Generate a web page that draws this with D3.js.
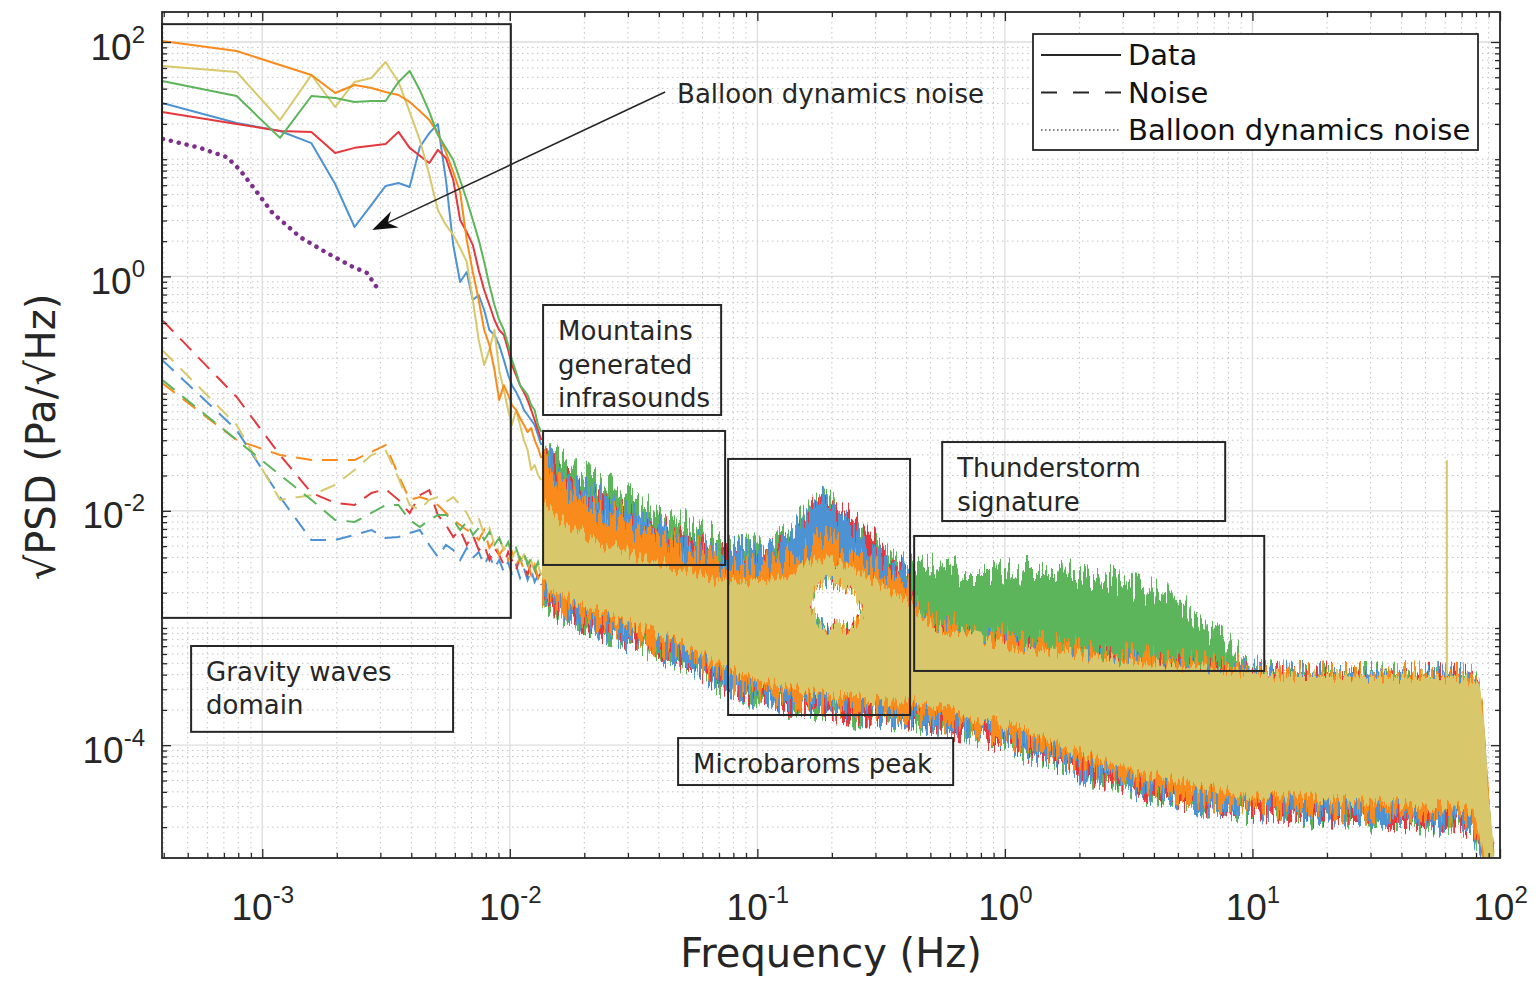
<!DOCTYPE html>
<html>
<head>
<meta charset="utf-8">
<script src="https://cdn.jsdelivr.net/npm/d3@7"></script>
<style>
  body { margin: 0; background: #fff; }
  svg { font-family: "DejaVu Sans", sans-serif; }
</style>
</head>
<body>
<svg id="chart"></svg>
<script>
// ---------- low frequency part: FFT bins (Hz) and sqrt(PSD) (Pa/sqrt(Hz))
const binFreq = [0.000394, 0.000788, 0.00118, 0.00158, 0.00197, 0.00236, 0.00276, 0.00315, 0.00355, 0.00394,
  0.00433, 0.00473, 0.00512, 0.00552, 0.00591, 0.0063, 0.0067, 0.00709, 0.00749, 0.00788,
  0.00827, 0.00867, 0.00906, 0.00946, 0.00985, 0.0102, 0.0106, 0.011, 0.0114, 0.0118,
  0.0122, 0.0126, 0.013, 0.0134];

// solid "Data" curves
const blueData = [30.2, 20.4, 17.4, 13.7, 6.14, 2.64, 4.07, 5.91, 6.27, 5.79, 12.7, 16.7, 20.0, 6.65, 1.85, 0.896, 1.09,
  0.629, 0.694, 0.517, 0.349, 0.316, 0.260, 0.194, 0.144, 0.118, 0.103, 0.0882, 0.0725, 0.0657, 0.0595, 0.054, 0.0443, 0.0364];
const redData = [25.3, 20.0, 17.4, 17.1, 11.3, 12.5, 13.0, 13.5, 17.1, 12.5, 10.7, 9.28, 12.0, 10.2, 6.65, 3.03, 2.39,
  1.85, 1.13, 0.766, 0.570, 0.425, 0.349, 0.316, 0.236, 0.175, 0.144, 0.118, 0.103, 0.0882, 0.0725, 0.0595, 0.0489, 0.0402];
const orangeData = [102, 83.8, 63.7, 52.3, 36.7, 43.0, 40.5, 37.5, 35.3, 30.8, 25.8, 21.6, 16.7, 11.5, 7.78, 5.25, 2.05,
  1.09, 0.629, 0.349, 0.260, 0.159, 0.0882, 0.118, 0.0973, 0.0799, 0.0725, 0.0619, 0.054, 0.047, 0.0509, 0.0402, 0.0343, 0.0282];
const yellowData = [62.4, 55.5, 21.6, 52.3, 27.9, 45.6, 49.3, 67.5, 45.6, 25.3, 14.6, 7.33, 3.69, 2.75, 2.26, 1.75, 1.33,
  0.629, 0.287, 0.175, 0.236, 0.349, 0.159, 0.107, 0.0725, 0.054, 0.0725, 0.054, 0.0402, 0.033, 0.0223, 0.0246, 0.0202, 0.0183];
const greenData = [46.5, 34.6, 15.2, 34.6, 33.3, 30.8, 31.4, 31.4, 45.6, 56.6, 38.9, 25.3, 16.1, 12.5, 9.84, 6.65, 4.49,
  3.03, 2.05, 1.33, 0.845, 0.570, 0.425, 0.349, 0.260, 0.194, 0.153, 0.118, 0.107, 0.0973, 0.0799, 0.0725, 0.054, 0.047];

// dashed "Noise" curves
const blueNoise = [0.194, 0.0489, 0.0131, 0.00563, 0.00563, 0.00622, 0.00686, 0.00586, 0.00597, 0.00647, 0.00686, 0.00511,
  0.00404, 0.00511, 0.00463, 0.0038, 0.00482, 0.00396, 0.00445, 0.00345, 0.0042, 0.00325, 0.0038, 0.00301, 0.00366,
  0.00283, 0.00345, 0.00267, 0.00325, 0.00257, 0.00313, 0.00247, 0.00283, 0.00233];
const redNoise = [0.425, 0.0935, 0.0299, 0.0142, 0.0117, 0.0112, 0.0142, 0.0153, 0.0124, 0.00958, 0.0136, 0.015,
  0.00921, 0.00756, 0.00597, 0.00686, 0.00511, 0.00622, 0.00463, 0.00511, 0.0038, 0.00482, 0.0042, 0.00345, 0.00445,
  0.0038, 0.00313, 0.00396, 0.00345, 0.00283, 0.00366, 0.00313, 0.00267, 0.00301];
const orangeNoise = [0.123, 0.0402, 0.0299, 0.0271, 0.0271, 0.0271, 0.0318, 0.0364, 0.0202, 0.0124, 0.0131, 0.0124,
  0.0112, 0.00958, 0.00835, 0.00756, 0.00686, 0.00647, 0.00563, 0.00686, 0.00482, 0.00563, 0.0042, 0.00482, 0.0038,
  0.00445, 0.00345, 0.00396, 0.00313, 0.00366, 0.00283, 0.00345, 0.00267, 0.00313];
const yellowNoise = [0.236, 0.054, 0.0124, 0.0136, 0.0166, 0.0223, 0.0299, 0.033, 0.019, 0.0112, 0.0102, 0.0124,
  0.0131, 0.0119, 0.0131, 0.0112, 0.00958, 0.00756, 0.00868, 0.00622, 0.00713, 0.00511, 0.00586, 0.00463, 0.00511,
  0.00396, 0.00463, 0.00366, 0.0042, 0.00325, 0.0038, 0.00301, 0.00345, 0.00283];
const greenNoise = [0.131, 0.0402, 0.0202, 0.0124, 0.00835, 0.00803, 0.00958, 0.0112, 0.0112, 0.00835, 0.00727, 0.00835,
  0.00921, 0.00921, 0.00835, 0.00686, 0.00803, 0.00622, 0.00713, 0.00563, 0.0066, 0.00511, 0.00586, 0.00463, 0.00541,
  0.0042, 0.00482, 0.0038, 0.00445, 0.00345, 0.00396, 0.00313, 0.00366, 0.00283];

// balloon dynamics noise (dotted purple)
const balloonFreq = [0.000397, 0.00056, 0.00072, 0.000813, 0.000918, 0.0011, 0.00142, 0.00183, 0.00233, 0.00265, 0.00291];
const balloonPsd = [14.9, 12.5, 10.4, 8.09, 5.79, 3.48, 2.17, 1.58, 1.20, 1.07, 0.80];

// ---------- high frequency part: upper / lower envelope of the dense spectra
const bandFreq = [0.0135, 0.016, 0.019, 0.023, 0.028, 0.034, 0.041, 0.05, 0.06, 0.07,
  0.08, 0.095, 0.11, 0.13, 0.15, 0.165, 0.18, 0.2, 0.22, 0.25,
  0.29, 0.34, 0.4, 0.47, 0.56, 0.7, 0.9, 1.2, 1.6, 2.1,
  2.8, 3.6, 4.7, 6, 7.5, 9.5, 12, 16, 22, 30,
  40, 55, 70, 78, 82, 86, 90, 95];

const greenHi = [0.0402, 0.0299, 0.0223, 0.0166, 0.0150, 0.0112, 0.00921, 0.00835, 0.00686, 0.00563,
  0.00463, 0.00482, 0.00511, 0.00586, 0.00835, 0.0108, 0.0117, 0.0112, 0.00868, 0.00727,
  0.00563, 0.00396, 0.00325, 0.00313, 0.00345, 0.00283, 0.00283, 0.00313, 0.00313, 0.00283,
  0.00257, 0.00211, 0.00191, 0.00117, 0.00079, 0.000512, 0.000397, 0.00039, 0.00039, 0.00039,
  0.000382, 0.00039, 0.000382, 0.000353, 0.000296, 0.000135, 0.000028, 0.0000109];
const greenLo = [0.00173, 0.00137, 0.00126, 0.000962, 0.000889, 0.000702, 0.000649, 0.000493, 0.000474, 0.000333,
  0.000339, 0.000263, 0.000279, 0.000216, 0.000238, 0.0002, 0.000225, 0.000185, 0.000207, 0.000177,
  0.0002, 0.000164, 0.000192, 0.000155, 0.000164, 0.000125, 0.000127, 0.0000892, 0.0000825, 0.0000567,
  0.0000546, 0.0000399, 0.0000407, 0.0000309, 0.0000328, 0.0000269, 0.0000297, 0.0000244, 0.0000275, 0.0000226,
  0.0000254, 0.0000208, 0.0000235, 0.0000175, 0.0000143, 0.0000109, 0.0000109, 0.0000109];

const redHi = [0.0330, 0.0202, 0.0150, 0.0112, 0.00978, 0.00756, 0.00713, 0.00541, 0.00482, 0.00412,
  0.0038, 0.00396, 0.0042, 0.00482, 0.0066, 0.0102, 0.0136, 0.0112, 0.00978, 0.00803,
  0.00586, 0.0038, 0.00301, 0.00104, 0.000943, 0.000822, 0.000716, 0.000649, 0.000588, 0.000544,
  0.000512, 0.000483, 0.000456, 0.000438, 0.00043, 0.000421, 0.00039, 0.000397, 0.00039, 0.000382,
  0.00039, 0.000382, 0.000375, 0.00036, 0.00032, 0.000149, 0.000029, 0.0000109];
const redLo = [0.0018, 0.00142, 0.00122, 0.001, 0.000855, 0.00073, 0.000624, 0.000533, 0.000438, 0.00036,
  0.000313, 0.000285, 0.000258, 0.000234, 0.000225, 0.000216, 0.000207, 0.0002, 0.000196, 0.000192,
  0.000185, 0.000177, 0.000177, 0.000167, 0.000152, 0.000135, 0.000117, 0.0000961, 0.0000762, 0.0000614,
  0.0000505, 0.0000431, 0.0000376, 0.0000334, 0.0000303, 0.0000291, 0.0000275, 0.0000264, 0.0000254, 0.0000244,
  0.0000235, 0.0000226, 0.0000217, 0.0000189, 0.0000138, 0.0000109, 0.0000109, 0.0000109];

const blueHi = [0.0299, 0.0223, 0.0157, 0.0129, 0.0102, 0.00868, 0.00686, 0.00622, 0.00511, 0.00463,
  0.00463, 0.00482, 0.00491, 0.00563, 0.00756, 0.0112, 0.0124, 0.0110, 0.00903, 0.00713,
  0.00511, 0.00366, 0.00283, 0.00106, 0.000962, 0.000838, 0.00073, 0.000649, 0.0006, 0.000554,
  0.000512, 0.000483, 0.000456, 0.000438, 0.000421, 0.000413, 0.000397, 0.000397, 0.000382, 0.00039,
  0.000382, 0.00039, 0.000382, 0.00036, 0.00032, 0.000158, 0.0000309, 0.0000109];
const blueLo = [0.00187, 0.00148, 0.00117, 0.00104, 0.000822, 0.00076, 0.0006, 0.000512, 0.000455, 0.000346,
  0.000326, 0.000274, 0.000268, 0.000225, 0.000229, 0.000207, 0.000216, 0.000192, 0.0002, 0.000185,
  0.000192, 0.000171, 0.000185, 0.000161, 0.000158, 0.00013, 0.000122, 0.0000924, 0.0000793, 0.000059,
  0.0000525, 0.0000415, 0.0000391, 0.0000321, 0.0000315, 0.000028, 0.0000286, 0.0000254, 0.0000264, 0.0000235,
  0.0000244, 0.0000217, 0.0000226, 0.0000182, 0.0000141, 0.0000109, 0.0000109, 0.0000109];

const orangeHi = [0.0271, 0.0157, 0.0136, 0.00921, 0.00903, 0.00622, 0.0066, 0.00463, 0.00482, 0.00366,
  0.00345, 0.00325, 0.00345, 0.0038, 0.00445, 0.00511, 0.00563, 0.00541, 0.00482, 0.0042,
  0.00366, 0.00283, 0.00233, 0.00129, 0.00112, 0.000962, 0.000855, 0.00076, 0.000688, 0.000637,
  0.000588, 0.000544, 0.000512, 0.000483, 0.000465, 0.000447, 0.000405, 0.000397, 0.00039, 0.00039,
  0.000397, 0.00039, 0.000382, 0.000367, 0.00034, 0.000181, 0.0000376, 0.0000109];
const orangeLo = [0.00203, 0.00166, 0.00137, 0.00117, 0.001, 0.000855, 0.000716, 0.000624, 0.000512, 0.000421,
  0.00036, 0.00032, 0.000296, 0.000263, 0.000253, 0.000243, 0.000234, 0.000225, 0.00022, 0.000216,
  0.000207, 0.000196, 0.0002, 0.000185, 0.000167, 0.000152, 0.000132, 0.000109, 0.0000858, 0.0000691,
  0.0000567, 0.0000486, 0.0000422, 0.0000376, 0.0000341, 0.0000321, 0.0000309, 0.0000297, 0.0000286, 0.0000275,
  0.0000264, 0.0000254, 0.0000244, 0.0000213, 0.0000155, 0.0000109, 0.0000109, 0.0000109];

const yellowHi = [0.0124, 0.00835, 0.00686, 0.00511, 0.00482, 0.0038, 0.00366, 0.00301, 0.00283, 0.00247,
  0.00257, 0.00242, 0.00257, 0.00283, 0.00325, 0.00358, 0.0038, 0.00366, 0.00338, 0.00301,
  0.00257, 0.00211, 0.00173, 0.00112, 0.001, 0.000872, 0.00076, 0.000675, 0.000625, 0.000577,
  0.000533, 0.000503, 0.000474, 0.000456, 0.000438, 0.000421, 0.000397, 0.00039, 0.00039, 0.000382,
  0.000382, 0.000382, 0.000375, 0.00036, 0.000326, 0.000164, 0.0000341, 0.0000109];
const yellowLo = [0.00233, 0.00191, 0.00163, 0.00137, 0.00117, 0.001, 0.000855, 0.000716, 0.000588, 0.000483,
  0.000421, 0.000375, 0.00034, 0.000307, 0.000296, 0.000285, 0.000274, 0.000263, 0.000258, 0.000253,
  0.000243, 0.000229, 0.000243, 0.00022, 0.0002, 0.000181, 0.000158, 0.00013, 0.000102, 0.0000825,
  0.0000678, 0.000058, 0.0000505, 0.0000448, 0.0000407, 0.0000384, 0.0000369, 0.0000355, 0.0000341, 0.0000328,
  0.0000315, 0.0000303, 0.000029, 0.0000254, 0.0000189, 0.0000109, 0.0000109, 0.0000109];

// empty pocket between data and noise under the microbarom peak
// (inner outline for the yellow record, slightly wider for the others)
const gapFreq = [0.163, 0.175, 0.19, 0.21, 0.23, 0.25, 0.27];
const gapTop = [0.00157, 0.00233, 0.00247, 0.00238, 0.0022, 0.00191, 0.00137];
const gapBottom = [0.00157, 0.00117, 0.001, 0.00106, 0.001, 0.00112, 0.00137];
const gapFreqWide = [0.158, 0.175, 0.19, 0.21, 0.23, 0.25, 0.28];
const gapTopWide = [0.00157, 0.00273, 0.00289, 0.00278, 0.00257, 0.00223, 0.00137];
const gapBottomWide = [0.00157, 0.001, 0.000855, 0.000906, 0.000855, 0.000958, 0.00137];

// narrow spectral line in the yellow record
const toneFreq = [61, 61];
const tonePsd = [0.00039, 0.027];

// ---------- axes
const xTicks = [1e-3, 1e-2, 1e-1, 1, 10, 100];
const yTicks = [1e-4, 1e-2, 1, 100];

const colors = {blue: "#4d92d2", red: "#e5383d", orange: "#f98a1c", yellow: "#d8c86b", green: "#5cb55a", purple: "#7e2f8e"};

const W = 1540, H = 981;
const margin = {top: 12, right: 40, bottom: 123, left: 162};
const width = W - margin.left - margin.right;
const height = H - margin.top - margin.bottom;

const svg = d3.select("#chart").attr("width", W).attr("height", H);
const defs = svg.append("defs");
const g = svg.append("g").attr("transform", `translate(${margin.left},${margin.top})`);

const x = d3.scaleLog().domain([3.936e-4, 100]).range([0, width]);
const y = d3.scaleLog().domain([1.09e-5, 180.3]).range([height, 0]);

defs.append("clipPath").attr("id", "plotClip")
  .append("rect").attr("width", width).attr("height", height);

// rough, column-wise vertical jitter so the filled spectra get ragged edges
function jitterFilter(id, seed, scale) {
  const f = defs.append("filter").attr("id", id)
    .attr("filterUnits", "userSpaceOnUse")
    .attr("x", -30).attr("y", -60).attr("width", width + 60).attr("height", height + 120)
    .attr("color-interpolation-filters", "sRGB");
  f.append("feTurbulence").attr("type", "fractalNoise").attr("baseFrequency", "0.35 0.012")
    .attr("numOctaves", 2).attr("seed", seed).attr("result", "noise");
  f.append("feColorMatrix").attr("in", "noise").attr("type", "matrix")
    .attr("values", "0 0 0 0 0.5  0 2.4 0 0 -0.7  0 0 0 0 0  0 0 0 0 1").attr("result", "map");
  f.append("feDisplacementMap").attr("in", "SourceGraphic").attr("in2", "map")
    .attr("scale", scale).attr("xChannelSelector", "R").attr("yChannelSelector", "G");
}

// grid
const isMajor = (list, t) => list.some(m => Math.abs(m - t) / m < 1e-6);
const xMinor = x.ticks().filter(t => !isMajor(xTicks, t));
const yMinor = y.ticks().filter(t => !isMajor(yTicks, t));

const grid = g.append("g");
grid.selectAll(".xminor").data(xMinor).enter().append("line")
  .attr("x1", d => x(d)).attr("x2", d => x(d)).attr("y1", 0).attr("y2", height)
  .attr("stroke", "#c4c4c4").attr("stroke-dasharray", "1.5,3.5");
grid.selectAll(".yminor").data(yMinor).enter().append("line")
  .attr("y1", d => y(d)).attr("y2", d => y(d)).attr("x1", 0).attr("x2", width)
  .attr("stroke", "#c4c4c4").attr("stroke-dasharray", "1.5,3.5");
grid.selectAll(".xmajor").data(xTicks).enter().append("line")
  .attr("x1", d => x(d)).attr("x2", d => x(d)).attr("y1", 0).attr("y2", height)
  .attr("stroke", "#dddddd").attr("stroke-width", 1.3);
grid.selectAll(".ymajor").data(yTicks).enter().append("line")
  .attr("y1", d => y(d)).attr("y2", d => y(d)).attr("x1", 0).attr("x2", width)
  .attr("stroke", "#dddddd").attr("stroke-width", 1.3);

const plot = g.append("g").attr("clip-path", "url(#plotClip)");

// dense spectra as filled envelopes
const area = d3.area().x(d => x(d.f)).y0(d => y(d.lo)).y1(d => y(d.hi));
const gapInner = area(gapFreq.map((f, i) => ({f, hi: gapTop[i], lo: gapBottom[i]})));
const gapOuter = area(gapFreqWide.map((f, i) => ({f, hi: gapTopWide[i], lo: gapBottomWide[i]})));

const bands = [
  {c: "green", hi: greenHi, lo: greenLo, seed: 2, jit: 30},
  {c: "red", hi: redHi, lo: redLo, seed: 5, jit: 30},
  {c: "blue", hi: blueHi, lo: blueLo, seed: 7, jit: 30},
  {c: "orange", hi: orangeHi, lo: orangeLo, seed: 11, jit: 30},
  {c: "yellow", hi: yellowHi, lo: yellowLo, seed: 13, jit: 14}
];
bands.forEach(b => {
  jitterFilter("jit-" + b.c, b.seed, b.jit);
  const pts = bandFreq.map((f, i) => ({f, hi: b.hi[i], lo: b.lo[i]}));
  plot.append("path")
    .attr("d", area(pts) + (b.c === "yellow" ? gapInner : gapOuter))
    .attr("fill-rule", "evenodd")
    .attr("fill", colors[b.c])
    .attr("filter", `url(#jit-${b.c})`);
});

const line = d3.line().x(d => x(d[0])).y(d => y(d[1]));

plot.append("path")
  .attr("d", line(toneFreq.map((f, i) => [f, tonePsd[i]])))
  .attr("stroke", colors.yellow).attr("stroke-width", 2).attr("fill", "none");

// dashed noise curves
const noiseSeries = [["blue", blueNoise], ["red", redNoise], ["orange", orangeNoise], ["yellow", yellowNoise], ["green", greenNoise]];
noiseSeries.forEach(([c, vals]) => {
  plot.append("path")
    .attr("d", line(binFreq.map((f, i) => [f, vals[i]])))
    .attr("fill", "none").attr("stroke", colors[c]).attr("stroke-width", 2)
    .attr("stroke-dasharray", "16,10");
});

// solid data curves
const dataSeries = [["blue", blueData], ["red", redData], ["yellow", yellowData], ["orange", orangeData], ["green", greenData]];
dataSeries.forEach(([c, vals]) => {
  plot.append("path")
    .attr("d", line(binFreq.map((f, i) => [f, vals[i]])))
    .attr("fill", "none").attr("stroke", colors[c]).attr("stroke-width", 2)
    .attr("stroke-linejoin", "round");
});

// balloon dynamics noise
plot.append("path")
  .attr("d", line(balloonFreq.map((f, i) => [f, balloonPsd[i]])))
  .attr("fill", "none").attr("stroke", colors.purple).attr("stroke-width", 4.5)
  .attr("stroke-linecap", "round").attr("stroke-dasharray", "0.1,8");

// ---------- annotations
const ink = "#262626";
const regionBoxes = [
  [3.936e-4, 0.0101, 142, 0.00122],
  [0.01363, 0.0741, 0.048, 0.00345],
  [0.0762, 0.414, 0.0277, 0.000181],
  [0.43, 11.16, 0.0061, 0.00043]
];
g.selectAll(".region").data(regionBoxes).enter().append("rect")
  .attr("x", d => x(d[0])).attr("y", d => y(d[2]))
  .attr("width", d => x(d[1]) - x(d[0])).attr("height", d => y(d[3]) - y(d[2]))
  .attr("fill", "none").attr("stroke", ink).attr("stroke-width", 2);

const labelBoxes = [
  {f0: 5.16e-4, f1: 5.9e-3, p0: 7.02e-4, p1: 1.30e-4, lines: ["Gravity waves", "domain"]},
  {f0: 0.01363, f1: 0.0714, p0: 0.570, p1: 0.0657, lines: ["Mountains", "generated", "infrasounds"]},
  {f0: 0.04785, f1: 0.618, p0: 1.15e-4, p1: 4.57e-5, lines: ["Microbaroms peak"]},
  {f0: 0.558, f1: 7.76, p0: 0.0386, p1: 0.00818, lines: ["Thunderstorm", "signature"]}
];
labelBoxes.forEach(b => {
  g.append("rect")
    .attr("x", x(b.f0)).attr("y", y(b.p0))
    .attr("width", x(b.f1) - x(b.f0)).attr("height", y(b.p1) - y(b.p0))
    .attr("fill", "none").attr("stroke", ink).attr("stroke-width", 2);
  b.lines.forEach((t, i) => {
    g.append("text")
      .attr("x", x(b.f0) + 15).attr("y", y(b.p0) + 35 + i * 33.5)
      .attr("font-size", 26).attr("fill", ink).text(t);
  });
});

// arrow pointing at the balloon dynamics noise
const arrowFrom = [0.0424, 37.5], arrowTo = [0.00278, 2.49];
const ax0 = x(arrowFrom[0]), ay0 = y(arrowFrom[1]), ax1 = x(arrowTo[0]), ay1 = y(arrowTo[1]);
const ang = Math.atan2(ay1 - ay0, ax1 - ax0) * 180 / Math.PI;
const len = Math.hypot(ax1 - ax0, ay1 - ay0);
const arrow = g.append("g").attr("transform", `translate(${ax1},${ay1}) rotate(${ang})`);
arrow.append("line").attr("x1", -len).attr("y1", 0).attr("x2", -16).attr("y2", 0)
  .attr("stroke", ink).attr("stroke-width", 1.6);
arrow.append("path").attr("d", "M0,0 L-25,-9 L-17,0 L-25,9 Z").attr("fill", "#111");
g.append("text").attr("x", x(0.0474)).attr("y", y(30.2))
  .attr("font-size", 26).attr("fill", ink).text("Balloon dynamics noise");

// ---------- legend
const legendItems = [
  {label: "Data", dash: null, w: 2, col: ink},
  {label: "Noise", dash: "16,16", w: 2, col: ink},
  {label: "Balloon dynamics noise", dash: "1.5,2.5", w: 1.5, col: "#555"}
];
const legend = g.append("g").attr("transform", "translate(871,22)");
legend.append("rect").attr("width", 445).attr("height", 116)
  .attr("fill", "#fff").attr("stroke", ink).attr("stroke-width", 1.8);
legendItems.forEach((d, i) => {
  legend.append("line").attr("x1", 8).attr("x2", 88).attr("y1", 21 + i * 37.5).attr("y2", 21 + i * 37.5)
    .attr("stroke", d.col).attr("stroke-width", d.w).attr("stroke-dasharray", d.dash);
  legend.append("text").attr("x", 95).attr("y", 31 + i * 37.5)
    .attr("font-size", 29).attr("fill", "#111").text(d.label);
});

// ---------- axes frame, ticks and labels
const expLabel = sel => sel.selectAll(".tick text").each(function(d) {
  const t = d3.select(this);
  t.text("10").attr("font-size", 37).attr("fill", ink);
  t.append("tspan").attr("dy", -17).attr("font-size", 24).text(Math.round(Math.log10(d)));
});

const xAxis = g.append("g").attr("transform", `translate(0,${height})`).attr("color", ink)
  .call(d3.axisBottom(x).tickValues(xTicks).tickSize(-9).tickFormat(() => "10"));
xAxis.call(expLabel);
xAxis.selectAll(".tick text").attr("y", 62).attr("dy", null);
g.append("g").attr("transform", `translate(0,${height})`).attr("color", ink)
  .call(d3.axisBottom(x).tickValues(xMinor).tickSize(-5).tickFormat(""));
g.append("g").attr("color", ink).call(d3.axisTop(x).tickValues(xTicks).tickSize(-9).tickFormat(""));
g.append("g").attr("color", ink).call(d3.axisTop(x).tickValues(xMinor).tickSize(-5).tickFormat(""));

const yAxis = g.append("g").attr("color", ink)
  .call(d3.axisLeft(y).tickValues(yTicks).tickSize(-9).tickFormat(() => "10"));
yAxis.call(expLabel);
yAxis.selectAll(".tick text").attr("x", -17).attr("y", 17).attr("dy", null);
g.append("g").attr("color", ink).call(d3.axisLeft(y).tickValues(yMinor).tickSize(-5).tickFormat(""));
g.append("g").attr("transform", `translate(${width},0)`).attr("color", ink)
  .call(d3.axisRight(y).tickValues(yTicks).tickSize(-9).tickFormat(""));
g.append("g").attr("transform", `translate(${width},0)`).attr("color", ink)
  .call(d3.axisRight(y).tickValues(yMinor).tickSize(-5).tickFormat(""));

g.selectAll(".domain").remove();
g.selectAll(".tick line").attr("stroke-width", 1.3);
g.append("rect").attr("width", width).attr("height", height)
  .attr("fill", "none").attr("stroke", ink).attr("stroke-width", 1.8);

svg.append("text").attr("x", 831).attr("y", 967).attr("text-anchor", "middle")
  .attr("font-size", 40).attr("fill", ink).text("Frequency (Hz)");
svg.append("text").attr("transform", "translate(55,437) rotate(-90)").attr("text-anchor", "middle")
  .attr("font-size", 40).attr("fill", ink).text("√PSD (Pa/√Hz)");
</script>
</body>
</html>
